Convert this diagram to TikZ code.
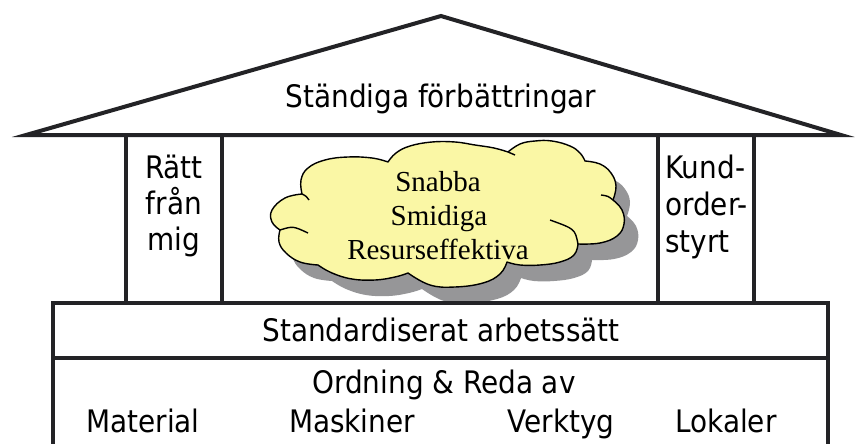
\documentclass[tikz,border=0pt]{standalone}
\usepackage{fontspec}
\setmainfont{Liberation Serif}
\newfontfamily\tah{DejaVu Sans Condensed}
\definecolor{lineC}{RGB}{35,35,38}
\definecolor{cloudY}{RGB}{250,247,165}
\definecolor{shadowG}{RGB}{150,150,152}
\begin{document}
\begin{tikzpicture}[x=1pt,y=-1pt,
  house/.style={line width=4pt, draw=lineC, line join=miter},
  cloudline/.style={line width=1.4pt, draw=black},
  lbl/.style={font=\tah\fontsize{31}{36}\selectfont, inner sep=0pt, anchor=base, text=black},
  cltxt/.style={font=\fontsize{29}{34}\selectfont, inner sep=0pt, anchor=base, text=black}]
\useasboundingbox (0,0) rectangle (857,444);
\def\cloudpath{plot[smooth,tension=0.7] coordinates {(302,194) (301,180) (308,168) (325,160) (348,157) (372,158) (388,162)}
 -- plot[smooth,tension=0.7] coordinates {(388,162) (396,153) (410,146) (432,142) (455,142) (475,145) (494,148) (508,152)}
 -- plot[smooth,tension=0.7] coordinates {(508,152) (520,144) (535,141) (552,141) (570,146) (580,153) (585,161)}
 -- plot[smooth,tension=0.7] coordinates {(585,161) (600,164) (611,173) (616,186) (613,200)}
 -- plot[smooth,tension=0.7] coordinates {(613,200) (622,210) (624,224) (617,236) (600,243) (578,244)}
 -- plot[smooth,tension=0.7] coordinates {(578,244) (574,255) (560,262) (540,265) (520,265) (507,262)}
 -- plot[smooth,tension=0.7] coordinates {(507,262) (500,274) (483,283) (455,287) (430,285) (408,273)}
 -- plot[smooth,tension=0.7] coordinates {(408,273) (395,277) (375,280) (352,279) (332,273) (318,265)}
 -- plot[smooth,tension=0.7] coordinates {(318,265) (300,262) (286,253) (279,242) (280,230)}
 -- plot[smooth,tension=0.7] coordinates {(280,230) (272,222) (272,210) (285,198) (302,194)} -- cycle}
% roof
\draw[house] (26,135) -- (441,16) -- (841,135) -- cycle;
\node[lbl] (roof) at (441,107) {Ständiga förbättringar};
% pillars
\draw[house] (126,135) -- (126,303);
\draw[house] (222,135) -- (222,303);
\draw[house] (658,135) -- (658,303);
\draw[house] (754,135) -- (754,303);
\node[lbl] (r1) at (174,178) {Rätt};
\node[lbl] (r2) at (174,214) {från};
\node[lbl] (r3) at (174,250) {mig};
\node[lbl, anchor=base west] (k1) at (665,178) {Kund-};
\node[lbl, anchor=base west] (k2) at (665,215) {order-};
\node[lbl, anchor=base west] (k3) at (665,252) {styrt};
% cloud
\fill[shadowG, shift={(14,16)}] \cloudpath;
\filldraw[cloudline, fill=cloudY, line join=round] \cloudpath;
\draw[cloudline] (280,230) .. controls (293,226) .. (308,233);
\draw[cloudline] (578,244) .. controls (575,229) .. (550,220);
\draw[cloudline] (613,200) .. controls (608,196) .. (601,195);
\draw[cloudline] (508,152) .. controls (511,154) .. (515,155);
\draw[cloudline] (302,194) .. controls (306,196) .. (309,200);
\node[cltxt] (c1) at (438,191) {Snabba};
\node[cltxt] (c2) at (439,225) {Smidiga};
\node[cltxt] (c3) at (438,259) {Resurseffektiva};
% base
\draw[house, fill=white] (53,303) rectangle (828,358);
\node[lbl] (std) at (441,341) {Standardiserat arbetssätt};
\draw[house] (53,460) -- (53,358) -- (828,358) -- (828,460);
\node[lbl] (ord) at (444,393) {Ordning \& Reda av};
\node[lbl] (m1) at (143,432) {Material};
\node[lbl] (m2) at (352,432) {Maskiner};
\node[lbl] (m3) at (561,432) {Verktyg};
\node[lbl] (m4) at (726,432) {Lokaler};
\end{tikzpicture}
\end{document}
